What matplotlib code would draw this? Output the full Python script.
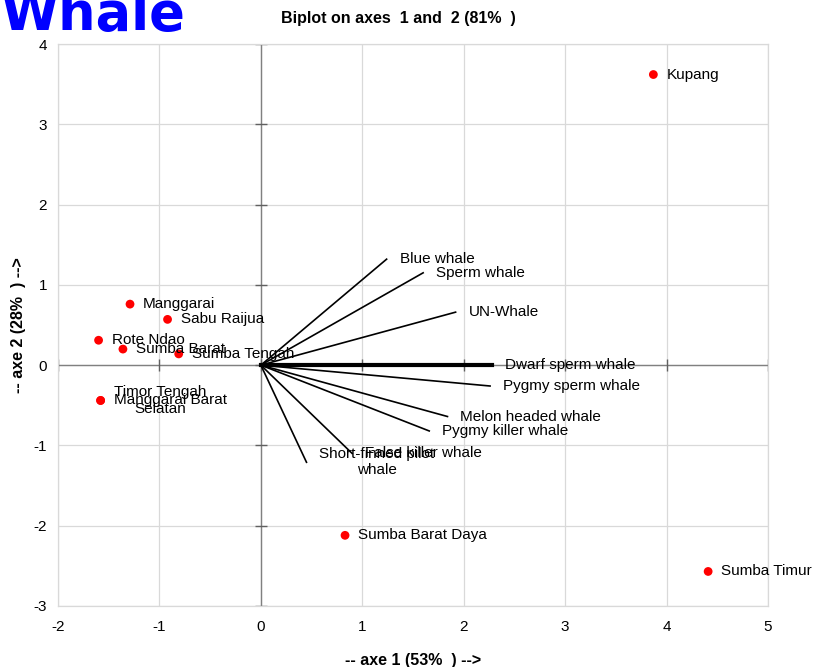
import matplotlib
matplotlib.use('Agg')
import matplotlib.pyplot as plt
import numpy as np

plt.rcParams['font.family'] = ['Liberation Sans', 'DejaVu Sans']
plt.rcParams['axes.unicode_minus'] = False

# ========= DATA =========

# Observations (regencies) on axes 1 and 2
site_names = ['Kupang', 'Sumba Timur', 'Sumba Barat Daya', 'Manggarai', 'Sabu Raijua',
              'Rote Ndao', 'Sumba Barat', 'Sumba Tengah', 'Timor Tengah\nSelatan',
              'Manggarai Barat']
site_x = [3.87, 4.41, 0.83, -1.29, -0.92, -1.60, -1.36, -0.81, -1.58, -1.58]
site_y = [3.62, -2.57, -2.12, 0.76, 0.57, 0.31, 0.20, 0.14, -0.44, -0.44]

# Variables (species) vectors
species = ['Blue whale', 'Sperm whale', 'UN-Whale', 'Dwarf sperm whale', 'Pygmy sperm whale',
           'Melon headed whale', 'Pygmy killer whale', 'False killer whale',
           'Short-finned pilot\nwhale']
vec_x = [1.24, 1.60, 1.92, 2.28, 2.26, 1.84, 1.66, 0.90, 0.45]
vec_y = [1.32, 1.15, 0.66, 0.0, -0.26, -0.64, -0.82, -1.10, -1.21]
vec_width = [1.2, 1.2, 1.2, 3.0, 1.2, 1.2, 1.2, 1.2, 1.2]

x_ticks = list(range(-2, 6))
y_ticks = list(range(-3, 5))

# ========= PLOT =========

fig = plt.figure(figsize=(8.17, 6.67), dpi=100)
ax = fig.add_axes([0.071, 0.0915, 0.869, 0.8425])

ax.set_xlim(-2, 5)
ax.set_ylim(-3, 4)
ax.set_xticks(x_ticks)
ax.set_yticks(y_ticks)
ax.grid(True, color='#d9d9d9', linewidth=0.9)
ax.set_axisbelow(True)
for s in ax.spines.values():
    s.set_color('#d9d9d9')
    s.set_linewidth(0.9)
ax.tick_params(length=0, labelsize=11, pad=10)
ax.tick_params(axis='y', pad=8)

# zero axes with cross ticks
ax.axhline(0, color='#808080', linewidth=1, zorder=1)
ax.axvline(0, color='#808080', linewidth=1, zorder=1)
ax.plot(x_ticks, [0] * len(x_ticks), ls='none', marker='|', ms=8, color='#606060', zorder=1)
ax.plot([0] * len(y_ticks), y_ticks, ls='none', marker='_', ms=8, color='#606060', zorder=1)

# vectors
for name, vx, vy, lw in zip(species, vec_x, vec_y, vec_width):
    ax.plot([0, vx], [0, vy], color='black', linewidth=lw, zorder=3)
    ax.annotate(name, (vx, vy), xytext=(13, 0), textcoords='offset pixels',
                ha='left', va='center', multialignment='center', fontsize=11, zorder=4)

# observations
ax.scatter(site_x, site_y, color='#ff0000', s=40, zorder=5, edgecolors='none')
for name, sx, sy in zip(site_names, site_x, site_y):
    ax.annotate(name, (sx, sy), xytext=(13, 0), textcoords='offset pixels',
                ha='left', va='center', multialignment='center', fontsize=11, zorder=6)

ax.set_xlabel('-- axe 1 (53%  ) -->', fontsize=11.5, fontweight='bold', labelpad=14)
ax.set_ylabel('-- axe 2 (28%  ) -->', fontsize=11.5, fontweight='bold', labelpad=5)

fig.text(0.487, 0.972, 'Biplot on axes  1 and  2 (81%  )', ha='center', va='center',
         fontsize=11.5, fontweight='bold')
fig.text(0.0, 0.955, 'Whale', ha='left', va='baseline', fontsize=38, fontweight='bold',
         color='#0000ff', family='DejaVu Sans')

fig.savefig('out.png', dpi=100)
